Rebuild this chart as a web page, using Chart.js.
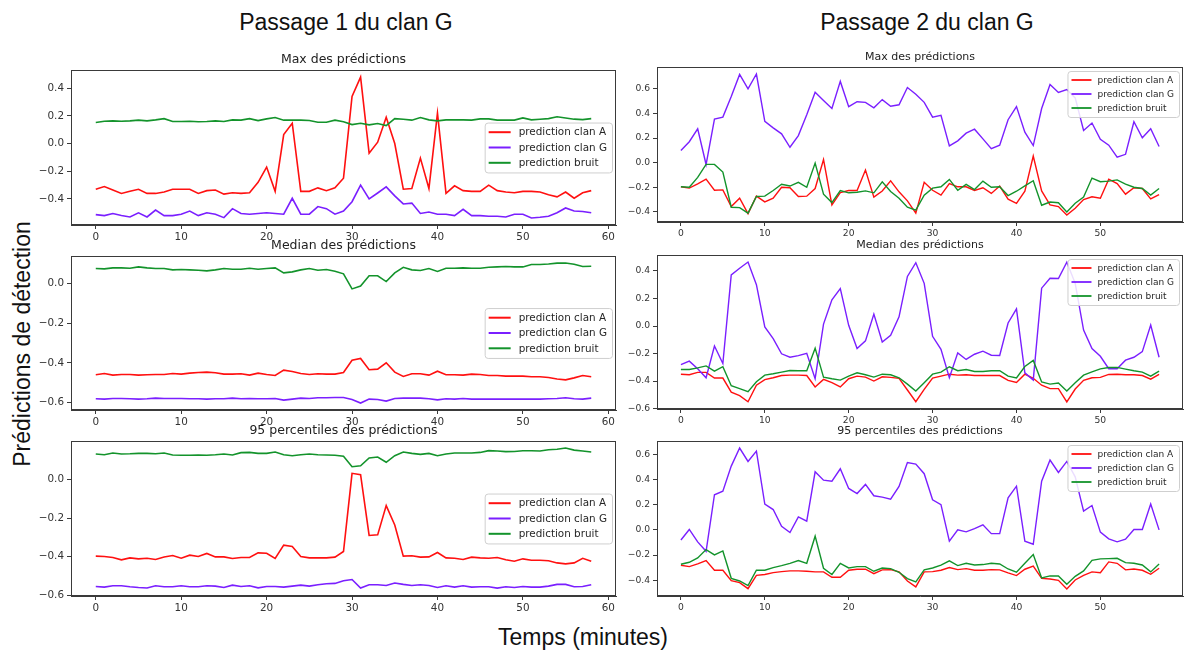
<!DOCTYPE html>
<html>
<head>
<meta charset="utf-8">
<script src="https://cdn.jsdelivr.net/npm/chart.js@4.4.1/dist/chart.umd.min.js"></script>
<style>
  body { margin: 0; background: #fff; }
  #fig { position: relative; width: 1190px; height: 653px; overflow: hidden; background: #fff; }
  .big { position: absolute; font-family: "Liberation Sans", Arial, sans-serif; font-size: 23px; color: #111;
         white-space: nowrap; transform: translate(-50%, -50%); }
  canvas { position: absolute; }
</style>
</head>
<body>
<div id="fig">
  <div class="big" style="left:346px;top:22px">Passage 1 du clan G</div>
  <div class="big" style="left:927px;top:22px">Passage 2 du clan G</div>
  <div class="big" style="left:22px;top:344px;transform:translate(-50%,-50%) rotate(-90deg)">Prédictions de détection</div>
  <div class="big" style="left:583px;top:637px">Temps (minutes)</div>
</div>
<script>
// series labels / colours
const seriesLabels = ['prediction clan A', 'prediction clan G', 'prediction bruit'];
const seriesColors = ['#ff1010', '#7a1fff', '#13932b'];

// Passage 1 (59 minutes)
const p1Ticks = [0, 10, 20, 30, 40, 50, 60];
const p1MaxA = [-0.33,-0.31,-0.335,-0.36,-0.345,-0.33,-0.36,-0.36,-0.35,-0.33,
  -0.33,-0.33,-0.36,-0.34,-0.335,-0.365,-0.355,-0.36,-0.355,-0.28,
  -0.17,-0.345,0.065,0.147,-0.345,-0.345,-0.32,-0.34,-0.32,-0.25,
  0.34,0.48,-0.07,0.01,0.19,0.0,-0.33,-0.325,-0.105,-0.325,
  0.22,-0.36,-0.305,-0.34,-0.345,-0.345,-0.30,-0.34,-0.35,-0.355,
  -0.345,-0.345,-0.35,-0.37,-0.385,-0.35,-0.395,-0.355,-0.34];
const p1MaxG = [-0.513,-0.52,-0.505,-0.52,-0.53,-0.50,-0.53,-0.48,-0.52,-0.52,
  -0.51,-0.487,-0.52,-0.50,-0.51,-0.535,-0.47,-0.505,-0.51,-0.505,
  -0.50,-0.505,-0.51,-0.395,-0.51,-0.51,-0.455,-0.47,-0.51,-0.487,
  -0.42,-0.30,-0.40,-0.357,-0.313,-0.378,-0.436,-0.43,-0.505,-0.494,
  -0.51,-0.51,-0.52,-0.475,-0.52,-0.52,-0.525,-0.525,-0.53,-0.51,
  -0.51,-0.537,-0.532,-0.525,-0.50,-0.465,-0.487,-0.49,-0.50];
const p1MaxB = [0.152,0.161,0.164,0.161,0.164,0.169,0.164,0.171,0.18,0.159,
  0.159,0.161,0.157,0.159,0.164,0.159,0.171,0.169,0.18,0.166,
  0.178,0.188,0.169,0.169,0.169,0.166,0.154,0.154,0.169,0.157,
  0.137,0.147,0.135,0.145,0.13,0.18,0.176,0.169,0.188,0.171,
  0.164,0.171,0.171,0.171,0.169,0.178,0.178,0.169,0.169,0.169,
  0.185,0.171,0.176,0.18,0.193,0.185,0.176,0.173,0.18];

const p1MedA = [-0.46,-0.454,-0.462,-0.459,-0.459,-0.462,-0.46,-0.459,-0.459,-0.454,
  -0.457,-0.452,-0.449,-0.447,-0.45,-0.457,-0.457,-0.455,-0.462,-0.452,
  -0.459,-0.464,-0.437,-0.444,-0.454,-0.459,-0.455,-0.457,-0.457,-0.449,
  -0.387,-0.378,-0.435,-0.432,-0.40,-0.447,-0.469,-0.455,-0.455,-0.462,
  -0.442,-0.46,-0.46,-0.462,-0.457,-0.459,-0.464,-0.464,-0.467,-0.467,
  -0.467,-0.47,-0.47,-0.474,-0.482,-0.486,-0.476,-0.464,-0.47];
const p1MedG = [-0.581,-0.583,-0.580,-0.580,-0.581,-0.583,-0.581,-0.578,-0.580,-0.580,
  -0.580,-0.581,-0.581,-0.583,-0.581,-0.581,-0.578,-0.581,-0.580,-0.581,
  -0.581,-0.580,-0.588,-0.583,-0.578,-0.580,-0.576,-0.576,-0.575,-0.575,
  -0.585,-0.603,-0.583,-0.585,-0.593,-0.580,-0.578,-0.578,-0.578,-0.581,
  -0.587,-0.581,-0.583,-0.580,-0.583,-0.583,-0.583,-0.583,-0.583,-0.583,
  -0.583,-0.583,-0.583,-0.581,-0.580,-0.576,-0.581,-0.583,-0.578];
const p1MedB = [0.076,0.074,0.079,0.079,0.077,0.084,0.079,0.076,0.076,0.069,
  0.071,0.069,0.067,0.064,0.069,0.076,0.072,0.072,0.077,0.072,
  0.076,0.079,0.054,0.059,0.069,0.076,0.067,0.071,0.062,0.049,
  -0.027,-0.013,0.039,0.039,0.010,0.054,0.082,0.069,0.066,0.076,
  0.061,0.077,0.077,0.079,0.077,0.077,0.082,0.084,0.086,0.084,
  0.084,0.096,0.096,0.099,0.103,0.104,0.097,0.086,0.087];

const p1P95A = [-0.397,-0.399,-0.404,-0.416,-0.406,-0.411,-0.408,-0.414,-0.401,-0.394,
  -0.408,-0.392,-0.399,-0.383,-0.401,-0.401,-0.409,-0.404,-0.404,-0.38,
  -0.382,-0.409,-0.34,-0.347,-0.399,-0.406,-0.406,-0.406,-0.402,-0.373,
  0.031,0.024,-0.29,-0.287,-0.136,-0.236,-0.397,-0.395,-0.402,-0.401,
  -0.378,-0.406,-0.408,-0.414,-0.402,-0.406,-0.408,-0.404,-0.416,-0.423,
  -0.411,-0.418,-0.418,-0.421,-0.432,-0.437,-0.432,-0.408,-0.423];
const p1P95G = [-0.554,-0.557,-0.550,-0.550,-0.555,-0.559,-0.562,-0.550,-0.555,-0.555,
  -0.550,-0.555,-0.555,-0.550,-0.552,-0.559,-0.547,-0.554,-0.550,-0.561,
  -0.554,-0.554,-0.557,-0.552,-0.547,-0.552,-0.545,-0.540,-0.538,-0.524,
  -0.518,-0.562,-0.545,-0.545,-0.549,-0.536,-0.543,-0.549,-0.545,-0.549,
  -0.559,-0.550,-0.557,-0.550,-0.557,-0.555,-0.555,-0.562,-0.555,-0.559,
  -0.554,-0.557,-0.557,-0.552,-0.543,-0.543,-0.555,-0.554,-0.545];
const p1P95B = [0.131,0.127,0.136,0.131,0.132,0.134,0.134,0.132,0.136,0.126,
  0.124,0.124,0.126,0.124,0.127,0.131,0.126,0.138,0.139,0.134,
  0.134,0.141,0.127,0.122,0.127,0.131,0.127,0.126,0.124,0.119,
  0.065,0.07,0.11,0.115,0.088,0.122,0.141,0.134,0.129,0.134,
  0.122,0.131,0.136,0.136,0.136,0.139,0.148,0.146,0.143,0.144,
  0.148,0.148,0.146,0.153,0.155,0.162,0.151,0.146,0.141];

// Passage 2 (58 minutes)
const p2Ticks = [0, 10, 20, 30, 40, 50];
const p2MaxA = [-0.196,-0.207,-0.172,-0.134,-0.224,-0.221,-0.357,-0.289,-0.414,-0.272,
  -0.319,-0.289,-0.20,-0.204,-0.275,-0.272,-0.21,0.025,-0.343,-0.243,
  -0.226,-0.226,-0.06,-0.28,-0.23,-0.147,-0.237,-0.31,-0.41,-0.16,
  -0.224,-0.264,-0.17,-0.196,-0.196,-0.226,-0.204,-0.25,-0.19,-0.297,
  -0.33,-0.232,0.054,-0.23,-0.343,-0.357,-0.425,-0.37,-0.30,-0.277,
  -0.289,-0.134,-0.17,-0.256,-0.204,-0.21,-0.294,-0.259];
const p2MaxG = [0.098,0.17,0.275,-0.015,0.354,0.37,0.537,0.717,0.60,0.72,
  0.335,0.283,0.234,0.125,0.22,0.39,0.572,0.505,0.44,0.66,
  0.455,0.495,0.49,0.445,0.512,0.458,0.47,0.61,0.556,0.49,
  0.37,0.385,0.136,0.177,0.24,0.272,0.193,0.114,0.142,0.349,
  0.455,0.248,0.139,0.44,0.635,0.57,0.594,0.526,0.262,0.322,
  0.19,0.142,0.044,0.068,0.332,0.202,0.275,0.131];
const p2MaxB = [-0.196,-0.2,-0.12,-0.014,-0.014,-0.076,-0.362,-0.365,-0.41,-0.275,
  -0.272,-0.226,-0.175,-0.19,-0.16,-0.2,-0.003,-0.256,-0.324,-0.226,
  -0.245,-0.24,-0.229,-0.245,-0.155,-0.234,-0.289,-0.362,-0.385,-0.264,
  -0.207,-0.196,-0.136,-0.224,-0.177,-0.218,-0.15,-0.2,-0.196,-0.267,
  -0.232,-0.188,-0.147,-0.346,-0.32,-0.326,-0.40,-0.33,-0.28,-0.125,
  -0.155,-0.15,-0.14,-0.175,-0.2,-0.21,-0.264,-0.21];

const p2MedA = [-0.35,-0.354,-0.337,-0.337,-0.378,-0.378,-0.48,-0.506,-0.55,-0.43,
  -0.39,-0.376,-0.36,-0.357,-0.357,-0.36,-0.443,-0.388,-0.412,-0.443,
  -0.383,-0.364,-0.371,-0.40,-0.369,-0.373,-0.38,-0.465,-0.55,-0.46,
  -0.378,-0.364,-0.35,-0.357,-0.354,-0.36,-0.36,-0.36,-0.36,-0.395,
  -0.41,-0.35,-0.38,-0.43,-0.455,-0.455,-0.552,-0.458,-0.395,-0.376,
  -0.373,-0.352,-0.35,-0.354,-0.354,-0.36,-0.386,-0.352];
const p2MedG = [-0.28,-0.255,-0.31,-0.376,-0.145,-0.272,0.371,0.42,0.465,0.30,
  -0.007,-0.092,-0.202,-0.227,-0.215,-0.198,-0.383,0.014,0.19,0.272,
  0.005,-0.164,-0.108,0.087,-0.116,-0.067,0.067,0.36,0.46,0.31,
  -0.075,-0.17,-0.376,-0.195,-0.243,-0.205,-0.183,-0.212,-0.214,0.022,
  0.125,-0.34,-0.393,0.275,0.347,0.345,0.463,0.31,-0.03,-0.164,
  -0.22,-0.31,-0.31,-0.248,-0.227,-0.186,0.007,-0.227];
const p2MedB = [-0.316,-0.316,-0.304,-0.29,-0.328,-0.296,-0.434,-0.455,-0.477,-0.405,
  -0.357,-0.347,-0.335,-0.323,-0.325,-0.325,-0.161,-0.371,-0.383,-0.393,
  -0.364,-0.34,-0.354,-0.371,-0.35,-0.354,-0.376,-0.422,-0.472,-0.412,
  -0.35,-0.335,-0.296,-0.325,-0.316,-0.33,-0.33,-0.325,-0.325,-0.364,
  -0.378,-0.294,-0.25,-0.407,-0.422,-0.414,-0.472,-0.412,-0.357,-0.333,
  -0.311,-0.301,-0.301,-0.313,-0.325,-0.335,-0.364,-0.328];

const p2P95A = [-0.28,-0.291,-0.27,-0.243,-0.32,-0.32,-0.402,-0.418,-0.466,-0.36,
  -0.354,-0.339,-0.331,-0.325,-0.325,-0.328,-0.333,-0.333,-0.376,-0.376,
  -0.32,-0.312,-0.312,-0.347,-0.317,-0.315,-0.333,-0.405,-0.452,-0.333,
  -0.331,-0.32,-0.299,-0.315,-0.307,-0.32,-0.32,-0.315,-0.317,-0.341,
  -0.362,-0.312,-0.288,-0.384,-0.389,-0.40,-0.468,-0.397,-0.36,-0.333,
  -0.339,-0.254,-0.265,-0.317,-0.31,-0.32,-0.352,-0.304];
const p2P95G = [-0.08,0.003,-0.095,-0.17,0.278,0.307,0.505,0.648,0.542,0.624,
  0.204,0.161,0.029,-0.021,0.103,0.069,0.46,0.394,0.386,0.484,
  0.328,0.288,0.36,0.27,0.259,0.243,0.344,0.534,0.521,0.445,
  0.238,0.2,-0.09,0.0,-0.016,0.01,0.04,-0.03,-0.03,0.254,
  0.346,-0.09,-0.114,0.386,0.553,0.455,0.542,0.42,0.148,0.193,
  -0.018,-0.071,-0.095,-0.074,0.003,0.003,0.204,0.0];
const p2P95B = [-0.272,-0.257,-0.222,-0.156,-0.198,-0.167,-0.384,-0.405,-0.442,-0.32,
  -0.32,-0.299,-0.283,-0.265,-0.243,-0.265,-0.05,-0.304,-0.354,-0.265,
  -0.302,-0.291,-0.291,-0.328,-0.302,-0.307,-0.336,-0.386,-0.413,-0.317,
  -0.302,-0.28,-0.246,-0.283,-0.265,-0.278,-0.275,-0.265,-0.27,-0.31,
  -0.336,-0.265,-0.196,-0.381,-0.365,-0.365,-0.431,-0.368,-0.325,-0.241,
  -0.23,-0.228,-0.225,-0.26,-0.265,-0.278,-0.333,-0.27];

// y ticks of each subplot
const yTicksP1Max = [-0.4, -0.2, 0.0, 0.2, 0.4];
const yTicksP1Low = [-0.6, -0.4, -0.2, 0.0];
const yTicksP2Max = [-0.4, -0.2, 0.0, 0.2, 0.4, 0.6];
const yTicksP2Med = [-0.6, -0.4, -0.2, 0.0, 0.2, 0.4];

const fig = document.getElementById('fig');

// frame, subplot title and legend drawn like matplotlib
const mplDeco = {
  id: 'mplDeco',
  afterDraw(chart, args, o) {
    const { ctx, chartArea: ca } = chart;
    ctx.save();
    ctx.strokeStyle = '#3a3a3a';
    ctx.lineWidth = 1;
    ctx.strokeRect(Math.round(ca.left) + 0.5, Math.round(ca.top) + 0.5,
      Math.round(ca.right - ca.left) - 1, Math.round(ca.bottom - ca.top) - 1);

    ctx.fillStyle = '#222';
    ctx.font = `${o.titleSize}px "DejaVu Sans"`;
    ctx.textAlign = 'center';
    ctx.textBaseline = 'bottom';
    ctx.fillText(o.title, (ca.left + ca.right) / 2, ca.top - 4);

    // legend
    const fs = o.legendSize, rowH = o.rowH, padX = 4, handle = o.handle, gap = o.gap;
    ctx.font = `${fs}px "DejaVu Sans"`;
    const sets = chart.data.datasets;
    const tw = Math.max(...sets.map(d => ctx.measureText(d.label).width));
    const bw = padX + handle + gap + tw + padX + 1;
    const bh = rowH * sets.length + 4;
    const bx = ca.right - o.inset - bw;
    const by = o.loc === 'center right' ? (ca.top + ca.bottom) / 2 - bh / 2 : ca.top + o.inset;
    ctx.beginPath();
    ctx.roundRect(bx + 0.5, by + 0.5, bw, bh, 3);
    ctx.fillStyle = 'rgba(255,255,255,0.85)';
    ctx.fill();
    ctx.strokeStyle = '#cfcfcf';
    ctx.stroke();
    ctx.textAlign = 'left';
    ctx.textBaseline = 'middle';
    sets.forEach((d, i) => {
      const cy = by + 2 + rowH * (i + 0.5);
      ctx.strokeStyle = d.borderColor;
      ctx.lineWidth = o.handleWidth;
      ctx.beginPath();
      ctx.moveTo(bx + padX, cy);
      ctx.lineTo(bx + padX + handle, cy);
      ctx.stroke();
      ctx.fillStyle = '#262626';
      ctx.fillText(d.label, bx + padX + handle + gap, cy + 0.5);
    });
    ctx.restore();
  }
};

const fmtY = v => (v < 0 ? '\u2212' : '') + Math.abs(v).toFixed(1);

function makePanel(p) {
  const padL = 52, padT = 26, padR = 6, padB = 24;
  const [x0, y0, x1, y1] = p.box;
  const w = x1 - x0 + padL + padR;
  const h = y1 - y0 + padT + padB;
  const canvas = document.createElement('canvas');
  canvas.width = w;
  canvas.height = h;
  canvas.style.left = (x0 - padL) + 'px';
  canvas.style.top = (y0 - padT) + 'px';
  canvas.style.width = w + 'px';
  canvas.style.height = h + 'px';
  fig.appendChild(canvas);

  const tickFont = { family: '"DejaVu Sans"', size: p.fs };
  new Chart(canvas, {
    type: 'line',
    data: {
      datasets: p.series.map((vals, k) => ({
        label: seriesLabels[k],
        data: vals.map((v, i) => ({ x: i, y: v })),
        borderColor: seriesColors[k],
        borderWidth: p.lw,
        pointRadius: 0,
        tension: 0,
        fill: false,
        order: 2 - k
      }))
    },
    options: {
      responsive: false,
      animation: false,
      events: [],
      layout: { padding: { left: 0, top: padT, right: padR, bottom: 0 } },
      plugins: {
        legend: { display: false },
        tooltip: { enabled: false },
        mplDeco: {
          title: p.title, titleSize: p.titleSize, loc: p.loc, inset: p.inset,
          legendSize: p.legendSize, rowH: p.rowH, handle: p.handle, gap: p.gap, handleWidth: p.lw + 0.4
        }
      },
      scales: {
        x: {
          type: 'linear', min: p.xMin, max: p.xMax,
          afterBuildTicks: s => { s.ticks = p.xTicks.map(v => ({ value: v })); },
          afterFit: s => { s.height = padB; },
          grid: { drawOnChartArea: false, drawTicks: true, tickLength: 4, color: '#3a3a3a' },
          border: { display: true, color: '#3a3a3a' },
          ticks: { font: tickFont, color: '#333', padding: 2, maxRotation: 0, autoSkip: false, callback: v => String(v) }
        },
        y: {
          type: 'linear', min: p.yMin, max: p.yMax,
          afterBuildTicks: s => { s.ticks = p.yTicks.map(v => ({ value: v })); },
          afterFit: s => { s.width = padL; },
          grid: { drawOnChartArea: false, drawTicks: true, tickLength: 4, color: '#3a3a3a' },
          border: { display: true, color: '#3a3a3a' },
          ticks: { font: tickFont, color: '#333', padding: 3, autoSkip: false, callback: fmtY }
        }
      }
    },
    plugins: [mplDeco]
  });
}

const leftStyle = { xMin: -2.9, xMax: 60.9, xTicks: p1Ticks, fs: 10.4, titleSize: 12.5, lw: 1.6,
  loc: 'center right', inset: 4, legendSize: 10.4, rowH: 15.3, handle: 22, gap: 8 };
const rightStyle = { xMin: -2.85, xMax: 59.85, xTicks: p2Ticks, fs: 9.2, titleSize: 11, lw: 1.4,
  loc: 'upper right', inset: 4, legendSize: 9, rowH: 14, handle: 20, gap: 6 };

makePanel({ ...leftStyle, box: [71, 70, 616, 225], title: 'Max des prédictions',
  series: [p1MaxA, p1MaxG, p1MaxB], yMin: -0.588, yMax: 0.531, yTicks: yTicksP1Max });
makePanel({ ...leftStyle, box: [71, 256, 616, 410], title: 'Median des prédictions',
  series: [p1MedA, p1MedG, p1MedB], yMin: -0.638, yMax: 0.139, yTicks: yTicksP1Low });
makePanel({ ...leftStyle, box: [71, 441, 616, 596], title: '95 percentiles des prédictions',
  series: [p1P95A, p1P95G, p1P95B], yMin: -0.603, yMax: 0.198, yTicks: yTicksP1Low });

makePanel({ ...rightStyle, box: [657, 67, 1183, 222], title: 'Max des prédictions',
  series: [p2MaxA, p2MaxG, p2MaxB], yMin: -0.482, yMax: 0.777, yTicks: yTicksP2Max });
makePanel({ ...rightStyle, box: [657, 255, 1183, 409], title: 'Median des prédictions',
  series: [p2MedA, p2MedG, p2MedB], yMin: -0.603, yMax: 0.516, yTicks: yTicksP2Med });
makePanel({ ...rightStyle, box: [657, 441, 1183, 596], title: '95 percentiles des prédictions',
  series: [p2P95A, p2P95G, p2P95B], yMin: -0.524, yMax: 0.704, yTicks: yTicksP2Max });
</script>
</body>
</html>
